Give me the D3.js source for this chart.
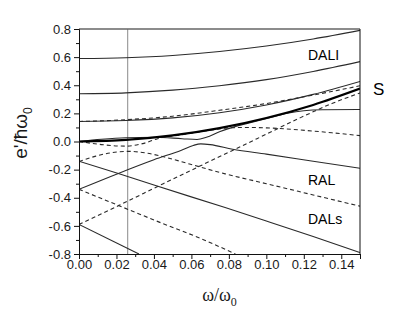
<!DOCTYPE html>
<html>
<head>
<meta charset="utf-8">
<script src="https://cdn.jsdelivr.net/npm/d3@7"></script>
<style>
  body { margin: 0; background: #fff; }
  svg { display: block; }
</style>
</head>
<body>
<svg id="chart" width="399" height="312"></svg>
<script>
// axis ticks
var xTicks = [0, 0.02, 0.04, 0.06, 0.08, 0.10, 0.12, 0.14];
var xMinor = [0.01, 0.03, 0.05, 0.07, 0.09, 0.11, 0.13, 0.15];
var yTicks = [-0.8, -0.6, -0.4, -0.2, 0, 0.2, 0.4, 0.6, 0.8];
var yMinor = [-0.7, -0.5, -0.3, -0.1, 0.1, 0.3, 0.5, 0.7];

// routhians [omega, e']
var solidA = [[0,0.59],[0.025,0.596],[0.05,0.612],[0.075,0.64],[0.1,0.679],[0.125,0.729],[0.15,0.79]];
var solidB = [[0,0.34],[0.025,0.346],[0.05,0.365],[0.075,0.397],[0.1,0.44],[0.125,0.498],[0.15,0.568]];
var solidC = [[0,0.142],[0.025,0.149],[0.05,0.168],[0.075,0.205],[0.1,0.26],[0.125,0.335],[0.15,0.427]];
var dashC  = [[0,0.142],[0.025,0.155],[0.05,0.18],[0.075,0.222],[0.1,0.27],[0.125,0.33],[0.15,0.396]];
var thickS = [[0,0],[0.025,0.011],[0.05,0.043],[0.075,0.095],[0.1,0.167],[0.125,0.26],[0.15,0.376]];
var solidE = [[0,0],[0.012,0.016],[0.025,0.027],[0.04,0.03],[0.055,0.02],[0.063,0.014],[0.068,0.03],
              [0.075,0.07],[0.085,0.113],[0.095,0.146],[0.105,0.18],[0.112,0.203],[0.12,0.219],[0.13,0.226],[0.15,0.228]];
var dashF  = [[0,0],[0.012,-0.022],[0.025,-0.033],[0.034,-0.015],[0.042,0.02],[0.055,0.048],[0.07,0.08],
              [0.08,0.097],[0.09,0.1],[0.1,0.097],[0.118,0.082],[0.135,0.062],[0.15,0.042]];
var dashG  = [[0,-0.142],[0.009,-0.104],[0.018,-0.078],[0.026,-0.07],[0.035,-0.08],[0.047,-0.115],
              [0.059,-0.16],[0.078,-0.23],[0.1,-0.3],[0.125,-0.38],[0.15,-0.46]];
var solidH = [[0,-0.14],[0.021,-0.228],[0.04,-0.31],[0.078,-0.47],[0.1,-0.565],[0.125,-0.675],[0.15,-0.79]];
var solidI = [[0,-0.34],[0.021,-0.227],[0.04,-0.13],[0.055,-0.06],[0.061,-0.028],[0.065,-0.017],
              [0.07,-0.022],[0.082,-0.055],[0.1,-0.09],[0.125,-0.14],[0.15,-0.19]];
var dashJ  = [[0,-0.34],[0.022,-0.46],[0.045,-0.585],[0.065,-0.69],[0.0835,-0.8]];
var dashK  = [[0,-0.59],[0.022,-0.45],[0.045,-0.3],[0.072,-0.127],[0.095,0.02],[0.118,0.168],[0.135,0.27],[0.15,0.345]];
var solidL = [[0,-0.59],[0.032,-0.8]];

var markerOmega = 0.026;

var svg = d3.select("#chart");
var margin = {left: 79, top: 29, right: 39, bottom: 58};
var W = +svg.attr("width"), H = +svg.attr("height");

var x = d3.scaleLinear().domain([0, 0.15]).range([margin.left, W - margin.right]);
var y = d3.scaleLinear().domain([-0.8, 0.8]).range([H - margin.bottom, margin.top]);

//clip for curves
svg.append("clipPath").attr("id", "clip")
  .append("rect")
  .attr("x", x(0)).attr("y", y(0.8))
  .attr("width", x(0.15) - x(0)).attr("height", y(-0.8) - y(0.8));

var line = d3.line()
  .x(function(d) { return x(d[0]); })
  .y(function(d) { return y(d[1]); })
  .curve(d3.curveMonotoneX);

var levels = [
  {pts: solidA, kind: "solid"}, {pts: solidB, kind: "solid"}, {pts: solidC, kind: "solid"},
  {pts: dashC, kind: "dash"}, {pts: solidE, kind: "solid"}, {pts: dashF, kind: "dash"},
  {pts: dashG, kind: "dash"}, {pts: solidH, kind: "solid"}, {pts: solidI, kind: "solid"},
  {pts: dashJ, kind: "dash"}, {pts: dashK, kind: "dash"}, {pts: solidL, kind: "solid"},
  {pts: thickS, kind: "thick"}
];

var plot = svg.append("g").attr("clip-path", "url(#clip)");

//grey vertical marker
plot.append("line")
  .attr("x1", x(markerOmega)).attr("x2", x(markerOmega))
  .attr("y1", y(0.8)).attr("y2", y(-0.8))
  .attr("stroke", "#8a8a8a").attr("stroke-width", 1);

plot.selectAll("path.level")
  .data(levels)
  .enter().append("path")
  .attr("class", "level")
  .attr("d", function(d) { return line(d.pts); })
  .attr("fill", "none")
  .attr("stroke", function(d) { return d.kind === "thick" ? "#000" : "#2a2a2a"; })
  .attr("stroke-width", function(d) { return d.kind === "thick" ? 2.2 : 1.1; })
  .attr("stroke-dasharray", function(d) { return d.kind === "dash" ? "4,3" : null; });

//frame
svg.append("line")
  .attr("x1", x(0)).attr("x2", x(0.15)).attr("y1", y(0.8)).attr("y2", y(0.8))
  .attr("stroke", "#666").attr("stroke-width", 1.5);
svg.append("line")
  .attr("x1", x(0.15)).attr("x2", x(0.15)).attr("y1", y(0.8)).attr("y2", y(-0.8))
  .attr("stroke", "#111").attr("stroke-width", 1);

//axes
var fontTick = "13px 'Liberation Sans', Arial, sans-serif";

var xAxis = svg.append("g")
  .attr("transform", "translate(0," + y(-0.8) + ")")
  .call(d3.axisBottom(x).tickValues(xTicks).tickSize(5).tickPadding(1)
    .tickFormat(function(d) { return d.toFixed(2); }));
svg.append("g")
  .attr("transform", "translate(0," + y(-0.8) + ")")
  .call(d3.axisBottom(x).tickValues(xMinor).tickSize(3).tickFormat(""))
  .select(".domain").remove();

var yAxis = svg.append("g")
  .attr("transform", "translate(" + x(0) + ",0)")
  .call(d3.axisLeft(y).tickValues(yTicks).tickSize(5).tickPadding(3)
    .tickFormat(function(d) { return d.toFixed(1); }));
svg.append("g")
  .attr("transform", "translate(" + x(0) + ",0)")
  .call(d3.axisLeft(y).tickValues(yMinor).tickSize(3).tickFormat(""))
  .select(".domain").remove();

svg.selectAll(".tick text").style("font", fontTick).attr("fill", "#1a1a1a");
svg.selectAll(".domain, .tick line").attr("stroke", "#111");

//axis titles
var xt = svg.append("text")
  .attr("x", (x(0) + x(0.15)) / 2).attr("y", 301)
  .attr("text-anchor", "middle")
  .style("font", "18px 'Liberation Serif', 'Times New Roman', serif")
  .attr("fill", "#1a1a1a");
xt.append("tspan").text("\u03c9/\u03c9");
xt.append("tspan").attr("dy", 5).style("font-size", "12px").text("0");

var yt = svg.append("text")
  .attr("transform", "translate(27,133) rotate(-90)")
  .attr("text-anchor", "middle")
  .style("font", "19px 'Liberation Sans', Arial, sans-serif")
  .attr("fill", "#1a1a1a");
yt.append("tspan").text("e'/\u0127\u03c9");
yt.append("tspan").attr("dy", 5).style("font-size", "12px").text("0");

//band labels
var labelFont = "14px 'Liberation Sans', Arial, sans-serif";
svg.append("text").attr("x", 308).attr("y", 60).style("font", labelFont).text("DALI");
svg.append("text").attr("x", 308).attr("y", 185).style("font", labelFont).text("RAL");
svg.append("text").attr("x", 308).attr("y", 224).style("font", labelFont).text("DALs");
svg.append("text").attr("x", 373).attr("y", 95).style("font", "17px 'Liberation Sans', Arial, sans-serif").text("S");
</script>
</body>
</html>
